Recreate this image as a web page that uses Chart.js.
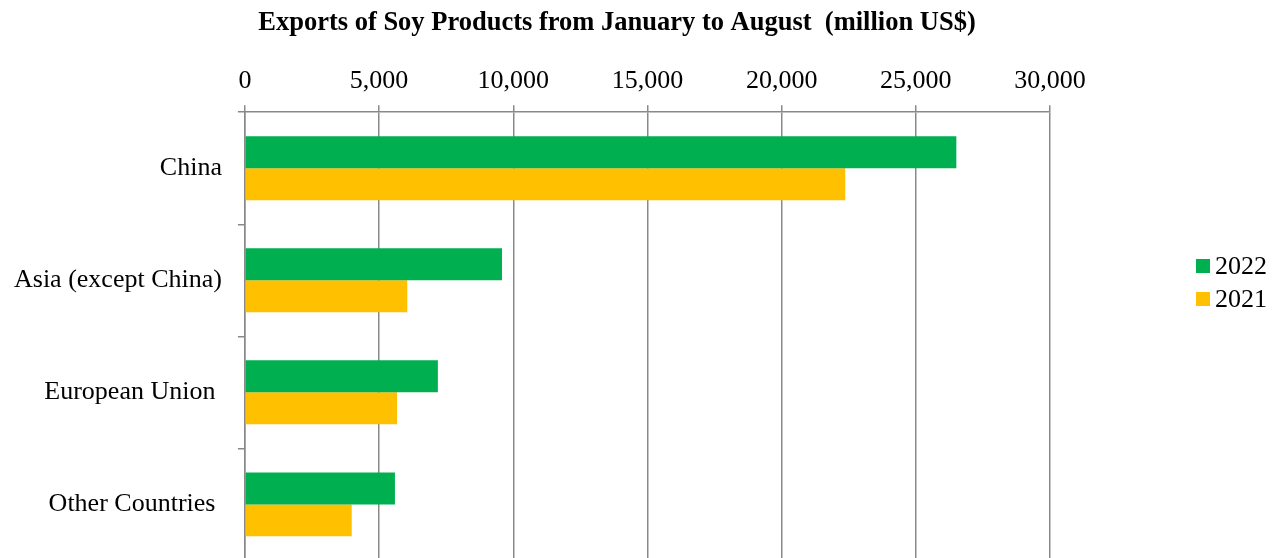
<!DOCTYPE html>
<html>
<head>
<meta charset="utf-8">
<script src="https://cdn.jsdelivr.net/npm/chart.js@4"></script>
<style>
  html, body { margin: 0; padding: 0; background: #fff; overflow: hidden; }
  #wrap { position: relative; width: 1276px; height: 592px; }
</style>
</head>
<body>
<div id="wrap"><canvas id="bars"></canvas></div>
<script>
var regions = ['China', 'Asia (except China)', 'European Union ', 'Other Countries '];
var exports2022 = [26510, 9580, 7190, 5590];
var exports2021 = [22370, 6050, 5670, 3980];
var seriesNames = ['2022', '2021'];
var seriesColors = ['#00B050', '#FFC000'];
var chartTitle = 'Exports of Soy Products from January to August  (million US$)';

var serif = "'Liberation Serif', 'Times New Roman', serif";

// title + legend drawn by hand so they sit where the original puts them
var extras = {
    id: 'extras',
    afterDraw: function (chart) {
        var c = chart.ctx;
        c.save();
        c.fillStyle = '#000';
        c.font = 'bold 26.5px ' + serif;
        c.textAlign = 'center';
        c.textBaseline = 'middle';
        c.fillText(chartTitle, 617, 23);

        c.font = '26px ' + serif;
        c.textAlign = 'left';
        chart.data.datasets.forEach(function (ds, i) {
            var y = 266 + i * 33;
            c.fillStyle = ds.backgroundColor;
            c.fillRect(1196, y - 7, 14, 14);
            c.fillStyle = '#000';
            c.fillText(ds.label, 1215, y + 1);
        });
        c.restore();
    }
};

var ctx = document.getElementById('bars').getContext('2d');
var chart = new Chart(ctx, {
    type: 'bar',
    data: {
        labels: regions,
        datasets: [{
            label: seriesNames[0],
            data: exports2022,
            backgroundColor: seriesColors[0]
        }, {
            label: seriesNames[1],
            data: exports2021,
            backgroundColor: seriesColors[1]
        }]
    },
    options: {
        indexAxis: 'y',
        responsive: true,
        maintainAspectRatio: false,
        animation: false,
        categoryPercentage: 0.571,
        barPercentage: 1,
        layout: {
            padding: { top: 58, right: 226, bottom: 2, left: -2 }
        },
        plugins: {
            legend: { display: false },
            title: { display: false },
            tooltip: { enabled: false }
        },
        scales: {
            x: {
                position: 'top',
                min: 0,
                max: 30000,
                ticks: {
                    stepSize: 5000,
                    color: '#000',
                    padding: 8,
                    font: { family: serif, size: 26 },
                    callback: function (v) { return v.toLocaleString('en-US'); }
                },
                grid: { color: '#898989', lineWidth: 1.5, tickLength: 7 },
                border: { color: '#898989', width: 1.5 }
            },
            y: {
                ticks: {
                    color: '#000',
                    padding: 16,
                    font: { family: serif, size: 26 }
                },
                grid: { drawOnChartArea: false, color: '#898989', lineWidth: 1.5, tickLength: 7 },
                border: { color: '#898989', width: 1.5 }
            }
        }
    },
    plugins: [extras]
});
</script>
</body>
</html>
